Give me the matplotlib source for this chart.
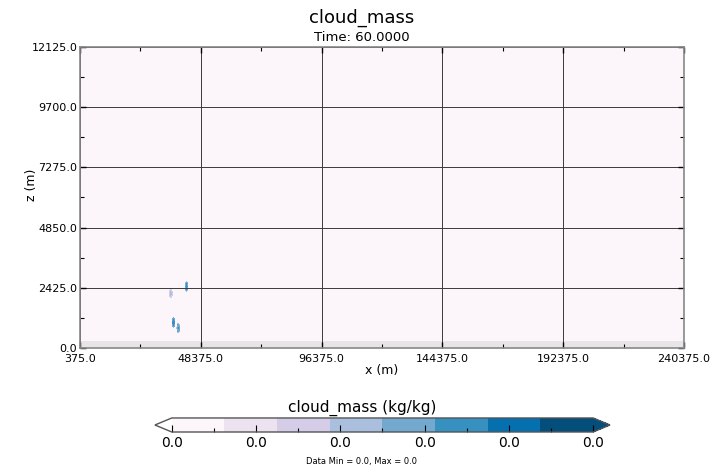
import numpy as np
import matplotlib.pyplot as plt
from matplotlib.colors import ListedColormap, BoundaryNorm

# ── Data ─────────────────────────────────────────────
x_ticks = [375.0, 48375.0, 96375.0, 144375.0, 192375.0, 240375.0]
z_ticks = [0.0, 2425.0, 4850.0, 7275.0, 9700.0, 12125.0]
cbar_labels = ['0.0', '0.0', '0.0', '0.0', '0.0', '0.0']

# small cloud blobs (x centre m, z centre m, value kg/kg)
blob_x = [42600.0, 36300.0, 37400.0, 39300.0]
blob_z = [2480.0, 2200.0, 1030.0, 800.0]
blob_val = [7.0e-6, 4.0e-6, 7.5e-6, 6.5e-6]
terrain_top = 300.0

vmax = 1.0e-5
colors = ['#fcf6fb', '#ece2f0', '#d5cde7', '#a9bfdd', '#74a9cf',
          '#3690c0', '#0570b0', '#034e7b']

# ── Field ───────────────────────────────────────────
dx, dz = 400.0, 50.0
xe = np.arange(375.0, 240375.0 + dx, dx)
ze = np.arange(0.0, 12125.0 + dz, dz)
xc = 0.5 * (xe[:-1] + xe[1:])
zc = 0.5 * (ze[:-1] + ze[1:])
XX, ZZ = np.meshgrid(xc, zc)
field = np.zeros_like(XX)
for bx, bz, bv in zip(blob_x, blob_z, blob_val):
    r = ((XX - bx) / 750.0) ** 2 + ((ZZ - bz) / 220.0) ** 2
    field = np.where(r < 1.0, bv * (1.0 - 0.4 * r), field)
field = np.ma.masked_where(ZZ < terrain_top, field)

cmap = ListedColormap(colors)
cmap.set_under('white')
cmap.set_over('#034e7b')
cmap.set_bad('#e8e4e7')
bounds = np.linspace(0, vmax, len(colors) + 1)
norm = BoundaryNorm(bounds, cmap.N)

# ── Plot ────────────────────────────────────────────
fig = plt.figure(figsize=(7.24, 4.69), dpi=100)
ax = fig.add_axes([0.1105, 0.258, 0.8343, 0.642])
pm = ax.pcolormesh(xe, ze, field, cmap=cmap, norm=norm, shading='flat')

ax.set_xlim(375.0, 240375.0)
ax.set_ylim(0.0, 12125.0)
ax.set_xticks(x_ticks)
ax.set_yticks(z_ticks)
ax.set_xticklabels([f'{v:.1f}' for v in x_ticks], fontsize=8)
ax.set_yticklabels([f'{v:.1f}' for v in z_ticks], fontsize=8)
ax.set_xticks([(a + b) / 2 for a, b in zip(x_ticks[:-1], x_ticks[1:])], minor=True)
ax.set_yticks([(a + b) / 2 for a, b in zip(z_ticks[:-1], z_ticks[1:])], minor=True)
ax.tick_params(which='major', direction='in', length=4, width=1.0, top=True, right=True, pad=2)
ax.tick_params(axis='x', which='major', pad=4)
ax.tick_params(which='minor', direction='in', length=3, width=0.8, top=True, right=True)
ax.grid(True, which='major', color='#3a3a3a', linewidth=0.7)
for s in ax.spines.values():
    s.set_color('#888888')
    s.set_linewidth(1.2)
ax.set_xlabel('x (m)', fontsize=9, labelpad=0)
fig.text(0.044, 0.605, 'z (m)', rotation=90, ha='center', va='center', fontsize=9)

fig.text(0.5, 0.962, 'cloud_mass', ha='center', va='center', fontsize=13)
fig.text(0.5, 0.921, 'Time: 60.0000', ha='center', va='center', fontsize=9.5)

# ── Colorbar ────────────────────────────────────────
cax = fig.add_axes([0.214, 0.0789, 0.6285, 0.0299])
cb = fig.colorbar(pm, cax=cax, orientation='horizontal', extend='both',
                  extendfrac=0.04, drawedges=False)
cb.set_ticks(np.linspace(0, vmax, len(cbar_labels)))
cb.set_ticklabels(cbar_labels, fontsize=10)
cb.minorticks_off()
cax.set_xticks(np.linspace(0, vmax, 2 * len(cbar_labels) - 1)[1::2], minor=True)
cax.tick_params(which='major', direction='in', length=5, width=0.8, pad=3)
cax.tick_params(which='minor', direction='in', length=3, width=0.8)
cb.outline.set_edgecolor('#555555')
cb.outline.set_linewidth(1.0)
fig.text(0.5, 0.13, 'cloud_mass (kg/kg)', ha='center', va='center', fontsize=11)
fig.text(0.5, 0.015, 'Data Min = 0.0, Max = 0.0', ha='center', va='center', fontsize=6)

plt.savefig('out.png', dpi=100)
